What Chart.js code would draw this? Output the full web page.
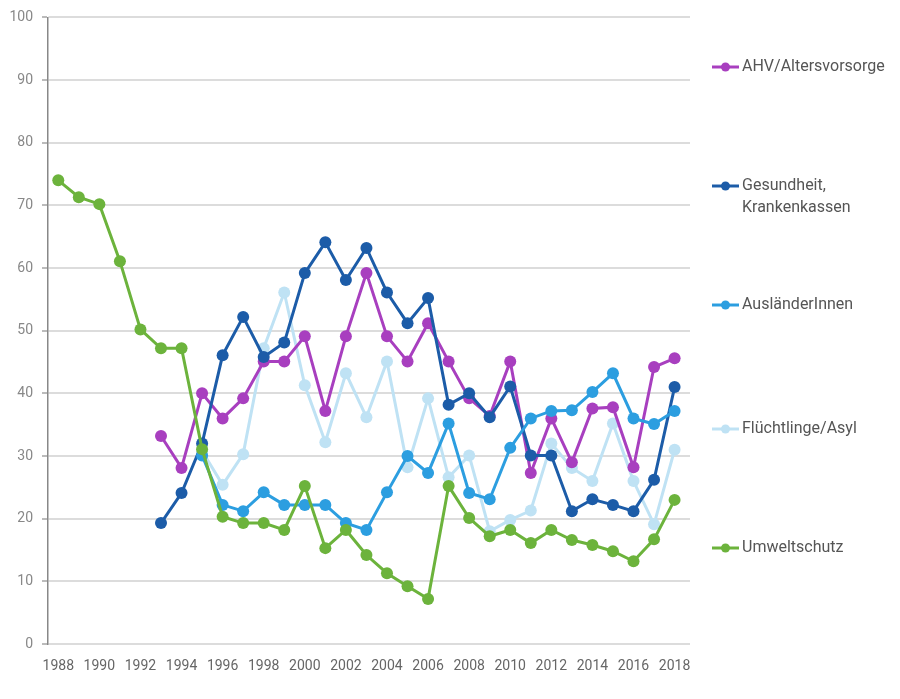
<!DOCTYPE html>
<html>
<head>
<meta charset="utf-8">
<script src="https://cdn.jsdelivr.net/npm/chart.js@4"></script>
<style>
  html, body { margin: 0; padding: 0; background: #fff; }
  #wrap { width: 900px; height: 699px; position: relative; }
</style>
</head>
<body>
<div id="wrap"><canvas id="chart-sorgen"></canvas></div>
<script>
const years = [];
for (let y = 1988; y <= 2018; y++) years.push(y);
const xTicks = [1988, 1990, 1992, 1994, 1996, 1998, 2000, 2002, 2004, 2006, 2008, 2010, 2012, 2014, 2016, 2018];
const yTicks = [0, 10, 20, 30, 40, 50, 60, 70, 80, 90, 100];

const ahv = [null, null, null, null, null,
  33.2, 28.1, 40.0, 36.0, 39.2, 45.1, 45.1, 49.1, 37.2, 49.1,
  59.2, 49.1, 45.1, 51.2, 45.1, 39.2, 36.4, 45.1, 27.3, 36.0,
  29.0, 37.6, 37.8, 28.2, 44.2, 45.6];
const gesundheit = [null, null, null, null, null,
  19.3, 24.1, 32.0, 46.1, 52.2, 45.8, 48.1, 59.2, 64.1, 58.1,
  63.2, 56.1, 51.2, 55.2, 38.2, 40.0, 36.2, 41.1, 30.1, 30.1,
  21.2, 23.1, 22.2, 21.2, 26.2, 41.0];
const auslaender = [null, null, null, null, null, null, null,
  30.1, 22.2, 21.2, 24.2, 22.2, 22.2, 22.2, 19.3,
  18.2, 24.2, 30.0, 27.3, 35.2, 24.1, 23.1, 31.3, 36.0, 37.2,
  37.3, 40.2, 43.2, 36.0, 35.1, 37.2];
const asyl = [null, null, null, null, null, null, null,
  30.8, 25.4, 30.3, 47.2, 56.1, 41.3, 32.2, 43.2,
  36.2, 45.1, 28.2, 39.2, 26.6, 30.1, 18.0, 19.8, 21.3, 32.0,
  28.1, 26.0, 35.2, 26.0, 19.1, 31.0];
const umwelt = [74.0, 71.3, 70.2, 61.1, 50.2,
  47.2, 47.2, 31.1, 20.3, 19.3, 19.3, 18.2, 25.2, 15.3, 18.2,
  14.2, 11.3, 9.2, 7.2, 25.2, 20.1, 17.2, 18.2, 16.1, 18.2,
  16.6, 15.8, 14.8, 13.2, 16.7, 23.0];

const seriesLabels = ['AHV/Altersvorsorge', ['Gesundheit,', 'Krankenkassen'], 'AusländerInnen', 'Flüchtlinge/Asyl', 'Umweltschutz'];
const seriesData = [ahv, gesundheit, auslaender, asyl, umwelt];
const seriesColors = ['#a83fbf', '#1c5ca8', '#2c9ee0', '#bfe2f4', '#6cb33c'];
const drawOrder = [3, 2, 1, 4, 0];

function toPoints(arr) {
  const pts = [];
  arr.forEach((v, i) => { if (v !== null) pts.push({ x: years[i], y: v }); });
  return pts;
}

const FONT = 'Roboto, "Liberation Sans", sans-serif';

// legend drawn at the right like the original
const sideLegend = {
  id: 'sideLegend',
  afterDraw(chart) {
    const ctx = chart.ctx;
    const rowsY = [67, 186, 305, 429, 548];
    ctx.save();
    ctx.font = '16px ' + FONT;
    ctx.textBaseline = 'middle';
    seriesLabels.forEach((lab, i) => {
      const y = rowsY[i];
      ctx.strokeStyle = seriesColors[i];
      ctx.fillStyle = seriesColors[i];
      ctx.lineWidth = 3;
      ctx.beginPath();
      ctx.moveTo(712, y);
      ctx.lineTo(739, y);
      ctx.stroke();
      ctx.beginPath();
      ctx.arc(725.5, y, 4.5, 0, Math.PI * 2);
      ctx.fill();
      ctx.fillStyle = '#555';
      const lines = Array.isArray(lab) ? lab : [lab];
      lines.forEach((t, j) => ctx.fillText(t, 742, y + j * 22));
    });
    ctx.restore();
  }
};

const ctx = document.getElementById('chart-sorgen').getContext('2d');
new Chart(ctx, {
  type: 'line',
  data: {
    datasets: seriesData.map((arr, i) => ({
      label: Array.isArray(seriesLabels[i]) ? seriesLabels[i].join(' ') : seriesLabels[i],
      data: toPoints(arr),
      borderColor: seriesColors[i],
      backgroundColor: seriesColors[i],
      borderWidth: 3,
      pointRadius: 6,
      pointHoverRadius: 6,
      pointBorderWidth: 0,
      tension: 0,
      order: drawOrder[i]
    }))
  },
  options: {
    responsive: true,
    maintainAspectRatio: false,
    animation: false,
    layout: { padding: { top: 10, right: 210, left: 0, bottom: 0 } },
    plugins: { legend: { display: false }, tooltip: { enabled: false } },
    scales: {
      x: {
        type: 'linear',
        min: 1987.5,
        max: 2018.75,
        afterBuildTicks: (scale) => { scale.ticks = xTicks.map(v => ({ value: v })); },
        afterFit: (scale) => { scale.height = 55; },
        grid: { display: false },
        border: { display: false },
        ticks: {
          autoSkip: false,
          maxRotation: 0,
          padding: 6,
          color: '#666',
          font: { family: FONT, size: 14 },
          callback: (v) => String(v)
        }
      },
      y: {
        min: 0,
        max: 100,
        afterBuildTicks: (scale) => { scale.ticks = yTicks.map(v => ({ value: v })); },
        afterFit: (scale) => { scale.width = 48; },
        grid: { color: '#dcdcdc', lineWidth: 2, tickLength: 6, tickColor: '#bbb' },
        border: { display: true, color: '#888', width: 1.5 },
        ticks: {
          padding: 9,
          color: '#888',
          font: { family: FONT, size: 14 }
        }
      }
    }
  },
  plugins: [sideLegend]
});
</script>
</body>
</html>
